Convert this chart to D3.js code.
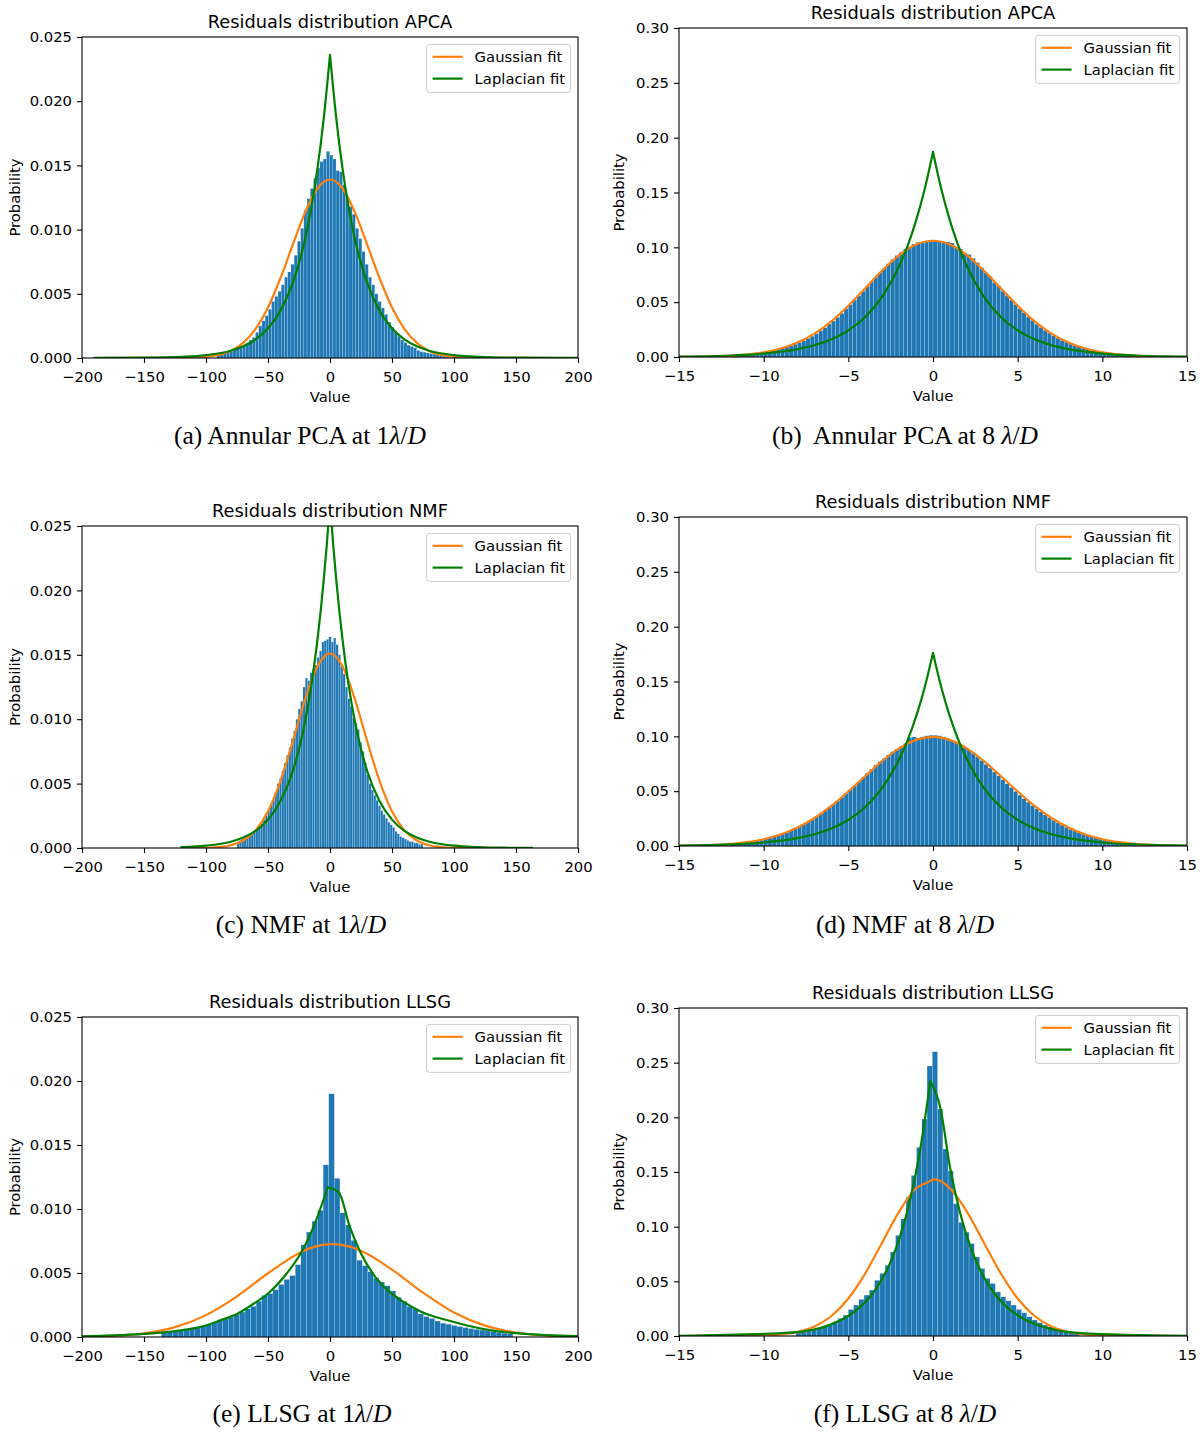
<!DOCTYPE html>
<html>
<head>
<meta charset="utf-8">
<script src="https://cdn.jsdelivr.net/npm/d3@7"></script>
<style>
body { margin: 0; background: #fff; }
svg text { font-family: "DejaVu Sans", sans-serif; }
.caption { font-family: "Liberation Serif", "Times New Roman", serif; white-space: pre; }
</style>
</head>
<body>
<svg id="fig" width="1200" height="1436"></svg>
<script>
// tick labels
var xTicksWide = [-200, -150, -100, -50, 0, 50, 100, 150, 200];
var xTicksNarrow = [-15, -10, -5, 0, 5, 10, 15];
var yTicksFine = [0, 0.005, 0.010, 0.015, 0.020, 0.025];
var yTicksCoarse = [0, 0.05, 0.10, 0.15, 0.20, 0.25, 0.30];

var titles = ["Residuals distribution APCA", "Residuals distribution APCA",
              "Residuals distribution NMF", "Residuals distribution NMF",
              "Residuals distribution LLSG", "Residuals distribution LLSG"];
var captions = ["(a) Annular PCA at 1", "(b)  Annular PCA at 8 ", "(c) NMF at 1",
                "(d) NMF at 8 ", "(e) LLSG at 1", "(f) LLSG at 8 "];
var legendLabels = ["Gaussian fit", "Laplacian fit"];

// histogram bins (first edge, width) per panel
var binStart = [-91.3, -12, -75.05, -12, -136, -8.1];
var binWidth = [2.6, 0.25, 1.9, 0.25, 4.5, 0.31];

var histApca1 = [0.0003,0.00035,0.0004,0.00045,0.0005,0.0007,0.0008,0.0009,0.0010,0.0012,
  0.0014,0.0016,0.0020,0.0025,0.0029,0.0033,0.0038,0.0044,0.0048,0.0052,
  0.0057,0.0063,0.0067,0.0073,0.0080,0.0091,0.0101,0.0115,0.0124,0.0132,
  0.0140,0.0148,0.0153,0.0155,0.0161,0.0158,0.0155,0.0146,0.0145,0.0135,
  0.0126,0.0118,0.0112,0.0101,0.0093,0.0083,0.0073,0.0063,0.0057,0.0050,
  0.0044,0.0039,0.0034,0.0028,0.0024,0.0020,0.0017,0.0014,0.0012,0.0010,
  0.0009,0.0008,0.0006,0.0005,0.00045,0.0004,0.00035,0.0003,0.00025,0.0002,
  0.00015,0.0001];

var histApca8 = [0.0012,0.0015,0.0018,0.0021,0.0025,0.0030,0.0035,0.0040,0.0046,0.0053,
  0.0061,0.0070,0.0080,0.0091,0.0103,0.0117,0.0132,0.0150,0.0170,0.0190,
  0.0213,0.0240,0.0268,0.0300,0.0328,0.0362,0.0398,0.0440,0.0478,0.0520,
  0.0560,0.0600,0.0645,0.0688,0.0728,0.0770,0.0808,0.0850,0.0890,0.0925,
  0.0955,0.0985,0.1005,0.1030,0.1045,0.1050,0.1055,0.1065,
  0.1060,0.1055,0.1045,0.1050,0.1040,0.1000,0.0985,0.0950,0.0935,0.0900,
  0.0860,0.0815,0.0770,0.0735,0.0680,0.0650,0.0600,0.0560,0.0520,0.0480,
  0.0440,0.0405,0.0365,0.0335,0.0300,0.0270,0.0243,0.0218,0.0195,0.0172,
  0.0152,0.0135,0.0118,0.0104,0.0091,0.0080,0.0070,0.0061,0.0053,0.0046,
  0.0040,0.0035,0.0030,0.0025,0.0021,0.0018,0.0015,0.0012];

var histNmf1 = [0.0005,0.0006,0.0007,0.0008,0.0009,0.0010,0.0011,0.0012,0.0014,0.0016,
  0.0019,0.0022,0.0025,0.0029,0.0033,0.0037,0.0043,0.0050,0.0054,0.0060,
  0.0066,0.0072,0.0078,0.0085,0.0091,0.0100,0.0108,0.0114,0.0125,0.0132,
  0.0130,0.0136,0.0139,0.0142,0.0148,0.0153,0.0160,0.0161,0.0162,0.0164,
  0.0160,0.0163,0.0158,0.0150,0.0141,0.0135,0.0125,0.0116,0.0110,0.0101,
  0.0097,0.0092,0.0082,0.0075,0.0066,0.0057,0.0050,0.0045,0.0041,0.0037,
  0.0033,0.0029,0.0026,0.0023,0.0020,0.0018,0.0016,0.0013,0.0011,0.0009,
  0.0008,0.0007,0.0006,0.0005,0.0005,0.0004,0.0004,0.0003,0.0003];

var histNmf8 = [0.0020,0.0023,0.0027,0.0032,0.0037,0.0043,0.0050,0.0058,0.0066,0.0076,
  0.0087,0.0098,0.0111,0.0126,0.0142,0.0159,0.0178,0.0198,0.0219,0.0243,
  0.0268,0.0294,0.0321,0.0351,0.0381,0.0412,0.0445,0.0478,0.0513,0.0548,
  0.0585,0.0624,0.0665,0.0700,0.0738,0.0770,0.0800,0.0830,0.0860,0.0885,
  0.0910,0.0935,0.0990,0.0995,0.0985,0.0995,0.1005,0.1010,
  0.1010,0.1005,0.0995,0.0980,0.0960,0.0945,0.0925,0.0900,0.0875,0.0845,
  0.0815,0.0780,0.0745,0.0712,0.0675,0.0640,0.0605,0.0568,0.0533,0.0498,
  0.0464,0.0432,0.0400,0.0368,0.0340,0.0312,0.0284,0.0258,0.0234,0.0212,
  0.0190,0.0171,0.0153,0.0137,0.0122,0.0108,0.0096,0.0085,0.0075,0.0066,
  0.0058,0.0050,0.0043,0.0037,0.0032,0.0027,0.0023,0.0020];

var histLlsg1 = [0.00036,0.00040,0.00045,0.00050,0.00056,0.00064,0.00074,0.00085,0.00096,0.00110,
  0.00125,0.00140,0.00155,0.00178,0.00195,0.00220,0.00240,0.00280,0.00325,0.00340,
  0.00370,0.00410,0.00450,0.00480,0.00565,0.00720,0.00820,0.00905,0.00990,0.01345,
  0.01900,
  0.01240,0.00970,0.00875,0.00755,0.00600,0.00557,0.00510,0.00460,0.00430,0.00400,
  0.00360,0.00310,0.00280,0.00240,0.00220,0.00180,0.00160,0.00145,0.00125,0.00108,
  0.00100,0.00090,0.00082,0.00074,0.00066,0.00060,0.00054,0.00048,0.00042,0.00036,
  0.00030,0.00025];

var histLlsg8 = [0.0027,0.0035,0.0045,0.0055,0.0070,0.0085,0.0100,0.0130,0.0161,0.0191,
  0.0243,0.0283,0.0335,0.0374,0.0420,0.0510,0.0572,0.0647,0.0769,0.0921,
  0.1070,0.1270,0.1468,0.1726,0.1985,0.2470,
  0.2600,
  0.2076,0.1710,0.1510,0.1210,0.1040,0.0950,0.0845,0.0723,0.0617,0.0526,
  0.0480,0.0404,0.0358,0.0322,0.0283,0.0243,0.0213,0.0176,0.0146,0.0122,
  0.0100,0.0085,0.0070,0.0055,0.0045,0.0035,0.0027];

// fitted curves as [value, probability] points
var gaussApca1 = [[-190,0],[-120,0.00001],[-100,0.00009],[-90,0.000235],[-80,0.00055],[-70,0.00118],
  [-60,0.00227],[-50,0.00394],[-40,0.00621],[-30,0.00883],[-20,0.01136],[-10,0.01322],[0,0.0139],
  [10,0.01322],[20,0.01136],[30,0.00883],[40,0.00621],[50,0.00394],[60,0.00227],[70,0.00118],
  [80,0.00055],[90,0.000235],[100,0.00009],[120,0.00001],[200,0]];
var lapApca1 = [[-190,0.000004],[-150,0.000022],[-120,0.000089],[-100,0.000225],[-80,0.00057],[-70,0.00091],
  [-60,0.00145],[-50,0.00231],[-40,0.00367],[-30,0.00585],[-20,0.00931],[-15,0.01175],[-10,0.01482],
  [-5,0.0187],[0,0.0236],[5,0.0187],[10,0.01482],[15,0.01175],[20,0.00931],[30,0.00585],[40,0.00367],
  [50,0.00231],[60,0.00145],[70,0.00091],[80,0.00057],[100,0.000225],[120,0.000089],[150,0.000022],[200,0.000002]];

var gaussApca8 = [[-15,0.0001],[-13,0.0005],[-12,0.0011],[-11,0.0022],[-10,0.0042],[-9,0.0077],[-8,0.0132],
  [-7,0.0213],[-6,0.0325],[-5,0.0467],[-4,0.0627],[-3,0.0788],[-2,0.0929],[-1,0.1026],[0,0.1060],
  [1,0.1026],[2,0.0929],[3,0.0788],[4,0.0627],[5,0.0467],[6,0.0325],[7,0.0213],[8,0.0132],[9,0.0077],
  [10,0.0042],[11,0.0022],[12,0.0011],[13,0.0005],[15,0.0001]];
var lapApca8 = [[-15,0.00041],[-12,0.00139],[-10,0.00316],[-8,0.00714],[-7,0.0107],[-6,0.0162],[-5,0.0243],
  [-4,0.0365],[-3,0.0550],[-2,0.0827],[-1.5,0.1014],[-1,0.1244],[-0.5,0.1525],[0,0.187],[0.5,0.1525],
  [1,0.1244],[1.5,0.1014],[2,0.0827],[3,0.0550],[4,0.0365],[5,0.0243],[6,0.0162],[7,0.0107],[8,0.00714],
  [10,0.00316],[12,0.00139],[15,0.00041]];

var gaussNmf1 = [[-120,0],[-100,0.00002],[-90,0.00007],[-80,0.00021],[-70,0.00058],[-60,0.00137],[-50,0.00285],
  [-40,0.0052],[-30,0.00829],[-20,0.01157],[-10,0.01413],[0,0.0151],[10,0.01413],[20,0.01157],[30,0.00829],
  [40,0.0052],[50,0.00285],[60,0.00137],[70,0.00058],[80,0.00021],[90,0.00007],[100,0.00002],[120,0],[163,0]];
var lapNmf1 = [[-120,0.000066],[-100,0.00018],[-80,0.00049],[-70,0.00081],[-60,0.00133],[-50,0.0022],[-40,0.00363],
  [-30,0.00598],[-25,0.00768],[-20,0.00986],[-15,0.01266],[-10,0.01626],[-7.5,0.01842],[-5,0.02087],
  [-2.5,0.02365],[0,0.0268],[2.5,0.02365],[5,0.02087],[7.5,0.01842],[10,0.01626],[15,0.01266],[20,0.00986],
  [25,0.00768],[30,0.00598],[40,0.00363],[50,0.0022],[60,0.00133],[70,0.00081],[80,0.00049],[100,0.00018],
  [120,0.000066],[140,0.000024],[163,0.000008]];

var gaussNmf8 = [[-15,0.0002],[-13,0.0009],[-12,0.0018],[-11,0.0035],[-10,0.0062],[-9,0.0105],[-8,0.0168],
  [-7,0.0255],[-6,0.0366],[-5,0.0497],[-4,0.0638],[-3,0.0775],[-2,0.0890],[-1,0.0968],[0,0.0995],
  [1,0.0968],[2,0.0890],[3,0.0775],[4,0.0638],[5,0.0497],[6,0.0366],[7,0.0255],[8,0.0168],[9,0.0105],
  [10,0.0062],[11,0.0035],[12,0.0018],[13,0.0009],[15,0.0002]];
var lapNmf8 = [[-15,0.00044],[-12,0.00145],[-10,0.0032],[-8,0.0072],[-7,0.0107],[-6,0.0160],[-5,0.0238],
  [-4,0.0355],[-3,0.0530],[-2,0.0791],[-1.5,0.0966],[-1,0.1180],[-0.5,0.1441],[0,0.176],[0.5,0.1441],
  [1,0.1180],[1.5,0.0966],[2,0.0791],[3,0.0530],[4,0.0355],[5,0.0238],[6,0.0160],[7,0.0107],[8,0.0072],
  [10,0.0032],[12,0.00145],[15,0.00044]];

var gaussLlsg1 = [[-200,0.000025],[-175,0.000093],[-150,0.00029],[-125,0.00077],[-100,0.00171],[-75,0.00318],
  [-50,0.00498],[-25,0.00655],[-12,0.00706],[2,0.00725],[14,0.0071],[25,0.00674],[50,0.00526],[75,0.00346],
  [100,0.00191],[125,0.00089],[150,0.00035],[175,0.00011],[200,0.00003]];
var lapLlsg1 = [[-200,0.00006],[-175,0.00012],[-150,0.00024],[-125,0.00046],[-100,0.0009],[-88.5,0.0013],
  [-75,0.0018],[-61.6,0.0026],[-50,0.0034],[-34.6,0.0050],[-23.8,0.0065],[-12.5,0.0088],[-1.8,0.0117],
  [7.1,0.0113],[16,0.0086],[24.6,0.0066],[35,0.0049],[46,0.0037],[60,0.0027],[73,0.0020],[97,0.00125],
  [125,0.0006],[150,0.0003],[175,0.00015],[200,0.00007]];

var gaussLlsg8 = [[-15,0],[-12,0.00002],[-10,0.00047],[-9,0.0014],[-8,0.0037],[-7,0.0087],[-6,0.0183],
  [-5,0.0343],[-4,0.0573],[-3,0.0855],[-2,0.1138],[-1,0.1351],[-0.3,0.1407],[0.04,0.1432],[0.4,0.1420],
  [1,0.1351],[2,0.1138],[3,0.0855],[4,0.0573],[5,0.0343],[6,0.0183],[7,0.0087],[8,0.0037],[9,0.0014],
  [10,0.00047],[12,0.00002],[15,0]];
var lapLlsg8 = [[-15,0.0001],[-8.42,0.0030],[-6.06,0.0104],[-4.88,0.0195],[-3.7,0.0362],[-3.11,0.0494],
  [-2.52,0.0673],[-1.93,0.0918],[-1.34,0.1253],[-0.75,0.171],[-0.16,0.233],[0.43,0.209],[1.02,0.153],
  [1.61,0.112],[2.2,0.0822],[2.79,0.0603],[3.38,0.0442],[3.97,0.0324],[5.15,0.0174],[6.33,0.0094],
  [8.69,0.0027],[15,0.0001]];

var hists = [histApca1, histApca8, histNmf1, histNmf8, histLlsg1, histLlsg8];
var gaussFits = [gaussApca1, gaussApca8, gaussNmf1, gaussNmf8, gaussLlsg1, gaussLlsg8];
var lapFits = [lapApca1, lapApca8, lapNmf1, lapNmf8, lapLlsg1, lapLlsg8];

// page layout
var layout = [
  {left: 82,  top: 37,   w: 496, h: 321, capX: 300, capY: 444},
  {left: 679, top: 28,   w: 508, h: 329, capX: 905, capY: 444},
  {left: 82,  top: 526,  w: 496, h: 322, capX: 301, capY: 933},
  {left: 679, top: 517,  w: 508, h: 329, capX: 905, capY: 933},
  {left: 82,  top: 1017, w: 496, h: 320, capX: 302, capY: 1422},
  {left: 679, top: 1008, w: 508, h: 328, capX: 905, capY: 1422}
];

var fontSize = 14.8;
var svg = d3.select('#fig');

function drawPanel(i)
{
    var L = layout[i];
    var wide = (i % 2 === 0);
    var bottom = L.top + L.h;

    var x = d3.scaleLinear(wide ? [-200, 200] : [-15, 15], [L.left, L.left + L.w]);
    var y = d3.scaleLinear(wide ? [0, 0.025] : [0, 0.30], [bottom, L.top]);

    var g = svg.append('g');

    g.append('clipPath').attr('id', 'clip' + i)
      .append('rect')
      .attr('x', L.left).attr('y', L.top)
      .attr('width', L.w).attr('height', L.h);

    var plot = g.append('g').attr('clip-path', 'url(#clip' + i + ')');

    // histogram
    var bins = hists[i].map((v, k) => ({
        x0: binStart[i] + k * binWidth[i],
        x1: binStart[i] + (k + 1) * binWidth[i],
        v: v
    }));

    plot.selectAll('rect.bar')
      .data(bins)
      .enter()
      .append('rect')
      .attr('class', 'bar')
      .attr('x', (d) => x(d.x0))
      .attr('width', (d) => x(d.x1) - x(d.x0))
      .attr('y', (d) => y(d.v))
      .attr('height', (d) => y(0) - y(d.v))
      .attr('fill', '#1f77b4')
      .attr('stroke', '#ffffff')
      .attr('stroke-opacity', 0.35)
      .attr('stroke-width', 0.5);

    // fits
    var smooth = d3.line()
      .x((d) => x(d[0]))
      .y((d) => y(d[1]))
      .curve(d3.curveMonotoneX);

    plot.append('path')
      .attr('d', smooth(gaussFits[i]))
      .attr('fill', 'none')
      .attr('stroke', '#ff7f0e')
      .attr('stroke-width', 2.2)
      .attr('stroke-linejoin', 'round');

    // laplacian drawn as two branches so the cusp stays sharp
    var lap = lapFits[i];
    var iPeak = d3.maxIndex(lap, (d) => d[1]);
    plot.append('path')
      .attr('d', smooth(lap.slice(0, iPeak + 1)) + smooth(lap.slice(iPeak)))
      .attr('fill', 'none')
      .attr('stroke', '#008000')
      .attr('stroke-width', 2.2)
      .attr('stroke-linejoin', 'round')
      .attr('stroke-linecap', 'round');

    // axes
    var xAxis = d3.axisBottom(x)
      .tickValues(wide ? xTicksWide : xTicksNarrow)
      .tickFormat(d3.format('d'))
      .tickSize(5)
      .tickPadding(8.5);

    var yAxis = d3.axisLeft(y)
      .tickValues(wide ? yTicksFine : yTicksCoarse)
      .tickFormat(d3.format(wide ? '.3f' : '.2f'))
      .tickSize(5)
      .tickPadding(5);

    g.append('g')
      .attr('transform', 'translate(0,' + bottom + ')')
      .call(xAxis);

    g.append('g')
      .attr('transform', 'translate(' + L.left + ',0)')
      .call(yAxis);

    g.selectAll('.domain').remove();
    g.selectAll('.tick line').attr('stroke', '#000').attr('stroke-width', 1.1);
    g.selectAll('.tick text')
      .attr('fill', '#000')
      .style('font-family', '"DejaVu Sans", sans-serif')
      .style('font-size', fontSize + 'px');

    // frame
    g.append('rect')
      .attr('x', L.left).attr('y', L.top)
      .attr('width', L.w).attr('height', L.h)
      .attr('fill', 'none')
      .attr('stroke', '#000')
      .attr('stroke-width', 1.1);

    // title and axis labels
    g.append('text')
      .attr('x', L.left + L.w / 2)
      .attr('y', L.top - 9)
      .attr('text-anchor', 'middle')
      .style('font-size', '17.8px')
      .text(titles[i]);

    g.append('text')
      .attr('x', L.left + L.w / 2)
      .attr('y', bottom + 43.5)
      .attr('text-anchor', 'middle')
      .style('font-size', fontSize + 'px')
      .text('Value');

    var yLabelX = wide ? L.left - 61.7 : L.left - 54.8;
    g.append('text')
      .attr('transform', 'translate(' + yLabelX + ',' + (L.top + L.h / 2) + ') rotate(-90)')
      .attr('text-anchor', 'middle')
      .style('font-size', fontSize + 'px')
      .text('Probability');

    // legend
    var legendW = 144;
    var lg = g.append('g')
      .attr('transform', 'translate(' + (L.left + L.w - 7.4 - legendW) + ',' + (L.top + 7.4) + ')');

    lg.append('rect')
      .attr('width', legendW).attr('height', 48)
      .attr('rx', 3)
      .attr('fill', '#fff').attr('fill-opacity', 0.8)
      .attr('stroke', '#cccccc').attr('stroke-width', 1);

    var legendColors = ['#ff7f0e', '#008000'];
    legendLabels.forEach(function(label, k)
    {
        var ly = 12.4 + k * 21.8;
        lg.append('line')
          .attr('x1', 6).attr('x2', 36)
          .attr('y1', ly).attr('y2', ly)
          .attr('stroke', legendColors[k])
          .attr('stroke-width', 2.2);
        lg.append('text')
          .attr('x', 48).attr('y', ly)
          .attr('dy', '0.35em')
          .style('font-size', fontSize + 'px')
          .text(label);
    });

    // caption
    var cap = svg.append('text')
      .attr('class', 'caption')
      .attr('x', L.capX).attr('y', L.capY)
      .attr('text-anchor', 'middle')
      .style('font-size', '25.5px');
    cap.append('tspan').text(captions[i]);
    cap.append('tspan').style('font-style', 'italic').text('\u03bb');
    cap.append('tspan').text('/');
    cap.append('tspan').style('font-style', 'italic').text('D');
}

for (var i = 0; i < 6; i++)
{
    drawPanel(i);
}
</script>
</body>
</html>
